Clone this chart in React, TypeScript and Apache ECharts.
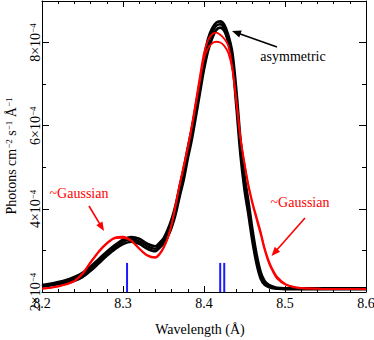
import React, { useEffect, useRef } from 'react';
import * as echarts from 'echarts';

// Wavelength grid (Å)
const wavelengths = [
  8.20, 8.21, 8.22, 8.23, 8.24, 8.25, 8.26, 8.27, 8.28, 8.29, 8.30, 8.31, 8.32, 8.33, 8.34,
  8.345, 8.35, 8.355, 8.36, 8.365, 8.37, 8.375, 8.38, 8.385, 8.39, 8.395, 8.40, 8.405, 8.41,
  8.415, 8.42, 8.425, 8.43, 8.435, 8.44, 8.445, 8.45, 8.455, 8.46, 8.465, 8.47, 8.475, 8.48,
  8.485, 8.49, 8.50, 8.51, 8.52, 8.54, 8.56, 8.58, 8.60,
];

// Photon flux in units of 1e-4 photons cm^-2 s^-1 Å^-1
const blackUpper = [
  2.17, 2.20, 2.24, 2.29, 2.36, 2.46, 2.61, 2.79, 2.97, 3.13, 3.26, 3.32, 3.28, 3.16, 3.10,
  3.18, 3.29, 3.49, 3.75, 4.10, 4.54, 4.97, 5.47, 5.94, 6.49, 7.06, 7.62, 8.09, 8.34,
  8.48, 8.51, 8.43, 8.18, 7.76, 6.84, 5.68, 4.80, 4.16, 3.48, 2.90, 2.48, 2.26, 2.17,
  2.13, 2.10, 2.09, 2.09, 2.09, 2.09, 2.09, 2.09, 2.09,
];
const blackMid = [
  2.15, 2.18, 2.21, 2.25, 2.31, 2.41, 2.56, 2.74, 2.92, 3.08, 3.21, 3.27, 3.22, 3.10, 3.04,
  3.12, 3.22, 3.40, 3.64, 3.98, 4.42, 4.83, 5.34, 5.80, 6.35, 6.92, 7.49, 7.98, 8.24,
  8.40, 8.44, 8.36, 8.12, 7.62, 6.63, 5.47, 4.62, 3.99, 3.33, 2.78, 2.40, 2.21, 2.14,
  2.11, 2.09, 2.08, 2.08, 2.08, 2.08, 2.08, 2.08, 2.08,
];
const blackLower = [
  2.13, 2.16, 2.19, 2.22, 2.27, 2.36, 2.51, 2.69, 2.87, 3.03, 3.15, 3.21, 3.16, 3.04, 2.98,
  3.06, 3.16, 3.32, 3.55, 3.87, 4.30, 4.70, 5.21, 5.67, 6.22, 6.79, 7.35, 7.80, 8.10,
  8.30, 8.36, 8.28, 8.00, 7.52, 6.45, 5.30, 4.46, 3.84, 3.19, 2.67, 2.32, 2.17, 2.12,
  2.09, 2.08, 2.07, 2.07, 2.07, 2.07, 2.07, 2.07, 2.07,
];
const redOuter = [
  2.08, 2.10, 2.14, 2.19, 2.27, 2.45, 2.72, 2.98, 3.18, 3.31, 3.33, 3.24, 3.04, 2.87, 2.82,
  2.90, 3.05, 3.28, 3.62, 4.10, 4.60, 5.05, 5.50, 6.02, 6.60, 7.20, 7.75, 8.06, 8.20,
  8.24, 8.19, 8.09, 7.92, 7.40, 6.55, 5.70, 5.10, 4.57, 4.15, 3.80, 3.45, 3.05, 2.75,
  2.53, 2.37, 2.20, 2.13, 2.10, 2.08, 2.07, 2.07, 2.07,
];
const redInner = [
  2.08, 2.10, 2.13, 2.18, 2.26, 2.43, 2.70, 2.96, 3.16, 3.29, 3.30, 3.23, 3.05, 2.89, 2.84,
  2.92, 3.07, 3.29, 3.62, 4.08, 4.57, 5.00, 5.45, 5.96, 6.52, 7.08, 7.62, 7.86, 7.98,
  8.02, 8.00, 7.92, 7.75, 7.35, 6.60, 5.72, 5.08, 4.52, 4.10, 3.74, 3.38, 3.00, 2.70,
  2.49, 2.33, 2.18, 2.12, 2.09, 2.08, 2.07, 2.07, 2.07,
];

// Line positions (Å) marked in blue, and their extent
const lineCenters = [8.305, 8.42, 8.425];
const lineBase = 2;
const lineTop = 2.7;

// Axis settings
const xMin = 8.2;
const xMax = 8.6;
const xStep = 0.1;
const yMin = 2;
const yMax = 9;
const yLabelValues = [2, 4, 6, 8];

const FONT = 'Liberation Serif, DejaVu Serif, serif';

function arrow(tail: number[], tip: number[], color: string) {
  const dx = tip[0] - tail[0];
  const dy = tip[1] - tail[1];
  const len = Math.sqrt(dx * dx + dy * dy);
  const ux = dx / len;
  const uy = dy / len;
  const hl = 9;
  const hw = 3.6;
  const bx = tip[0] - ux * hl;
  const by = tip[1] - uy * hl;
  return [
    {
      type: 'line',
      shape: { x1: tail[0], y1: tail[1], x2: bx + ux * 1, y2: by + uy * 1 },
      style: { stroke: color, lineWidth: 1.6 },
      z: 100,
    },
    {
      type: 'polygon',
      shape: {
        points: [
          [tip[0], tip[1]],
          [bx - uy * hw, by + ux * hw],
          [bx + uy * hw, by - ux * hw],
        ],
      },
      style: { fill: color },
      z: 100,
    },
  ];
}

export default function App() {
  const ref = useRef<HTMLDivElement>(null);
  useEffect(() => {
    if (!ref.current) return;
    const chart = echarts.init(ref.current, null, { renderer: 'svg' });
    const pair = (ys: number[]) => wavelengths.map((x, i) => [x, ys[i]]);
    const curve = (ys: number[], color: string, width: number) => ({
      type: 'line',
      data: pair(ys),
      xAxisIndex: 0,
      yAxisIndex: 0,
      showSymbol: false,
      symbol: 'none',
      smooth: 0.3,
      lineStyle: { color, width },
      silent: true,
    });
    const blue = lineCenters.map((c) => ({
      type: 'line',
      data: [
        [c, lineBase],
        [c, lineTop],
      ],
      xAxisIndex: 0,
      yAxisIndex: 0,
      showSymbol: false,
      symbol: 'none',
      lineStyle: { color: '#1a1aff', width: 2 },
      z: 5,
      silent: true,
    }));

    const axisLine = { show: true, onZero: false, lineStyle: { color: '#000', width: 1 } };
    const xCommon = {
      type: 'value',
      min: xMin,
      max: xMax,
      interval: xStep,
      axisLine,
      axisTick: { show: true, inside: true, length: 6, lineStyle: { color: '#000' } },
      minorTick: { show: true, splitNumber: 5, length: 3, lineStyle: { color: '#000' } },
      splitLine: { show: false },
      minorSplitLine: { show: false },
    };
    const yMajor = {
      type: 'value',
      min: yMin,
      max: yMax,
      interval: 2,
      axisLine,
      axisTick: { show: true, inside: true, length: 7, lineStyle: { color: '#000' } },
      splitLine: { show: false },
    };
    const yMinor = {
      type: 'value',
      min: yMin,
      max: yMax,
      interval: 1,
      axisLine: { show: false },
      axisTick: { show: true, inside: true, length: 4, lineStyle: { color: '#000' } },
      axisLabel: { show: false },
      splitLine: { show: false },
    };

    const supRich = {
      n: { fontFamily: FONT, fontSize: 14, color: '#000' },
      s: { fontFamily: FONT, fontSize: 9, color: '#000', verticalAlign: 'top', lineHeight: 14 },
    };

    chart.setOption({
      animation: false,
      backgroundColor: '#fff',
      grid: { left: 42, right: 8, top: 1, bottom: 48, outerBoundsMode: 'none', containLabel: false },
      xAxis: [
        {
          ...xCommon,
          position: 'bottom',
          axisLabel: {
            show: true,
            margin: 4,
            fontFamily: FONT,
            fontSize: 14,
            color: '#000',
            showMinLabel: true,
            showMaxLabel: true,
            formatter: (v: number) => v.toFixed(1),
          },
        },
        { ...xCommon, position: 'top', axisLabel: { show: false } },
      ],
      yAxis: [
        {
          ...yMajor,
          position: 'left',
          axisLabel: {
            show: true,
            rotate: 90,
            margin: 0,
            showMinLabel: true,
            showMaxLabel: true,
            rich: supRich,
            formatter: (v: number) => {
              const n = Math.round(v);
              return yLabelValues.indexOf(n) >= 0 ? `{n|${n}×10}{s|−4}` : '';
            },
          },
        },
        { ...yMinor, position: 'left' },
        { ...yMajor, position: 'right', axisLabel: { show: false } },
        { ...yMinor, position: 'right' },
      ],
      series: [
        curve(blackUpper, '#000', 2.6),
        curve(blackLower, '#000', 2.6),
        curve(blackMid, '#000', 2.4),
        curve(redInner, '#ff0000', 1.8),
        curve(redOuter, '#ff0000', 1.8),
        ...blue,
      ],
      graphic: [
        {
          type: 'text',
          x: 11,
          y: 156,
          rotation: Math.PI / 2,
          style: {
            text: '{n|Photons cm}{s|−2}{n| s}{s|−1}{n| Å}{s|−1}',
            rich: supRich,
            align: 'center',
            verticalAlign: 'middle',
          },
        },
        {
          type: 'text',
          x: 200,
          y: 329,
          style: {
            text: 'Wavelength (Å)',
            fontFamily: FONT,
            fontSize: 14,
            fill: '#000',
            align: 'center',
            verticalAlign: 'middle',
          },
        },
        {
          type: 'text',
          x: 79,
          y: 193,
          z: 100,
          style: {
            text: '~Gaussian',
            fontFamily: FONT,
            fontSize: 14,
            fill: '#ff0000',
            align: 'center',
            verticalAlign: 'middle',
          },
        },
        {
          type: 'text',
          x: 300,
          y: 202,
          z: 100,
          style: {
            text: '~Gaussian',
            fontFamily: FONT,
            fontSize: 14,
            fill: '#ff0000',
            align: 'center',
            verticalAlign: 'middle',
          },
        },
        {
          type: 'text',
          x: 293,
          y: 56,
          z: 100,
          style: {
            text: 'asymmetric',
            fontFamily: FONT,
            fontSize: 14,
            fill: '#000',
            align: 'center',
            verticalAlign: 'middle',
          },
        },
        ...arrow([89, 206], [104, 231], '#ff0000'),
        ...arrow([305, 218], [271.5, 256], '#ff0000'),
        ...arrow([277, 47], [232, 31], '#000'),
      ],
    });
    return () => chart.dispose();
  }, []);
  return <div ref={ref} style={{ width: 374, height: 340, position: 'absolute', left: 0, top: 0 }} />;
}
